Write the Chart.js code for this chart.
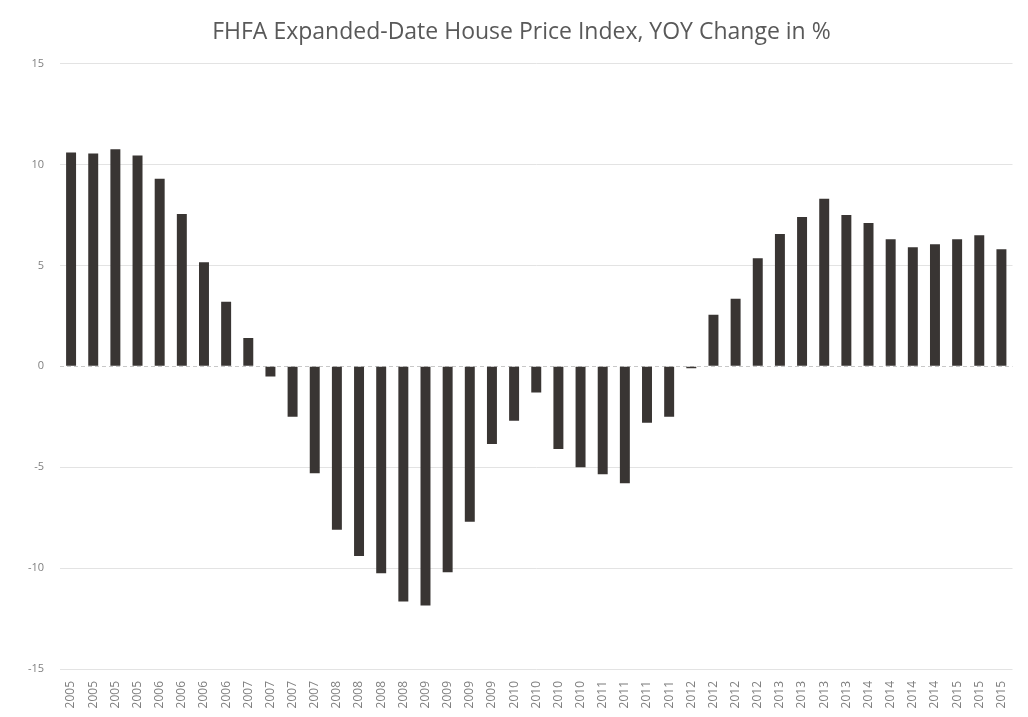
<!DOCTYPE html>
<html>
<head>
<meta charset="utf-8">
<script src="https://cdn.jsdelivr.net/npm/chart.js@4"></script>
<style>
  html, body { margin: 0; padding: 0; background: #fff; }
  #wrap { width: 1028px; height: 717px; }
</style>
</head>
<body>
<div id="wrap"><canvas id="hpiChart"></canvas></div>
<script>
// quarter labels, 2005 Q1 .. 2015 Q3
const quarterLabels = [
  "2005", "2005", "2005", "2005",
  "2006", "2006", "2006", "2006",
  "2007", "2007", "2007", "2007",
  "2008", "2008", "2008", "2008",
  "2009", "2009", "2009", "2009",
  "2010", "2010", "2010", "2010",
  "2011", "2011", "2011", "2011",
  "2012", "2012", "2012", "2012",
  "2013", "2013", "2013", "2013",
  "2014", "2014", "2014", "2014",
  "2015", "2015", "2015"
];

// YOY change in %
const yoyChange = [
  10.6, 10.55, 10.75, 10.45,
  9.3, 7.55, 5.15, 3.2,
  1.4, -0.5, -2.5, -5.3,
  -8.1, -9.4, -10.25, -11.65,
  -11.85, -10.2, -7.7, -3.85,
  -2.7, -1.3, -4.1, -5.0,
  -5.35, -5.8, -2.8, -2.5,
  -0.1, 2.55, 3.35, 5.35,
  6.55, 7.4, 8.3, 7.5,
  7.1, 6.3, 5.9, 6.05,
  6.3, 6.5, 5.8
];

const yTicks = [-15, -10, -5, 0, 5, 10, 15];

const textGray = "#7f7f7f";

// leading spaces nudge the centred title a bit to the right, like the original
const titleText = "     FHFA Expanded-Date House Price Index, YOY Change in %";

const ctx = document.getElementById("hpiChart");
const chart = new Chart(ctx, {
  type: "bar",
  data: {
    labels: quarterLabels,
    datasets: [{
      label: "YOY Change in %",
      data: yoyChange,
      backgroundColor: "#393533",
      borderWidth: 0,
      barPercentage: 0.45,
      categoryPercentage: 1.0
    }]
  },
  options: {
    responsive: true,
    maintainAspectRatio: false,
    animation: false,
    layout: { padding: { left: 0, right: 15, top: 0, bottom: 0 } },
    plugins: {
      legend: { display: false },
      tooltip: { enabled: false },
      title: {
        display: true,
        text: titleText,
        color: "#595959",
        font: { family: "Open Sans", size: 23, weight: "normal" },
        padding: { top: 19, bottom: 17 }
      }
    },
    scales: {
      x: {
        grid: { display: false, drawTicks: false },
        border: { display: false },
        ticks: {
          autoSkip: false,
          maxRotation: 90,
          minRotation: 90,
          padding: 12,
          color: textGray,
          font: { family: "Open Sans", size: 12 }
        },
        afterFit: (scale) => { scale.height = 48; }
      },
      y: {
        min: yTicks[0],
        max: yTicks[yTicks.length - 1],
        afterBuildTicks: (scale) => {
          scale.ticks = yTicks.map(v => ({ value: v }));
        },
        grid: {
          drawTicks: false,
          color: (c) => c.tick && c.tick.value === 0 ? "#c8c8c8" : "#e3e3e3",
          lineWidth: 1
        },
        border: {
          display: false,
          dash: (c) => c.tick && c.tick.value === 0 ? [4, 3] : []
        },
        ticks: {
          padding: 16,
          color: textGray,
          font: { family: "Open Sans", size: 11 }
        },
        afterFit: (scale) => { scale.width = 60; }
      }
    }
  }
});
</script>
</body>
</html>
